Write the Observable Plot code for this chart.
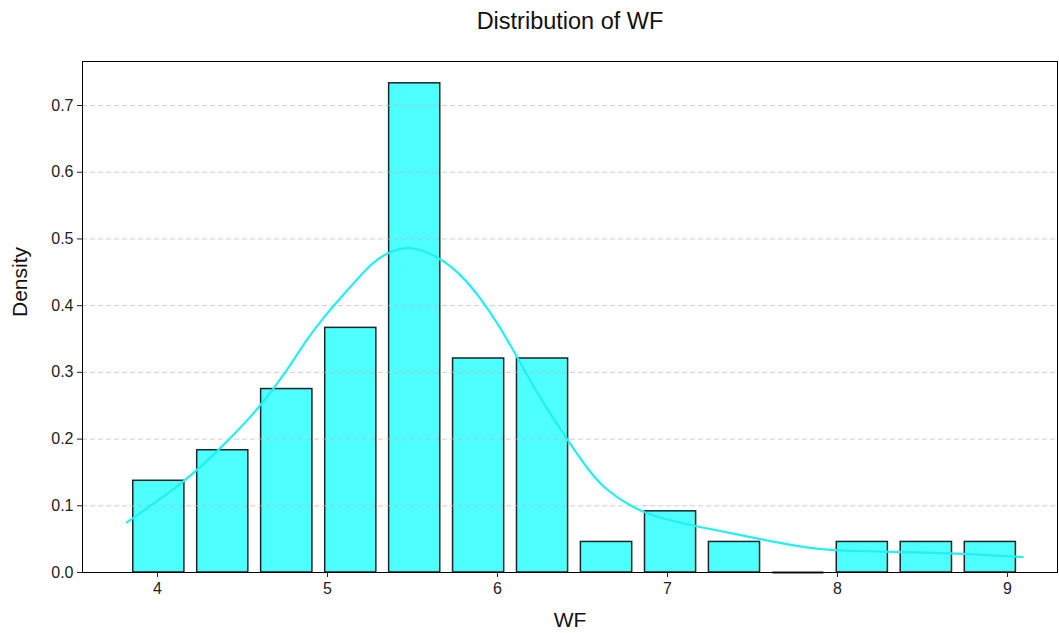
<!DOCTYPE html>
<html>
<head>
<meta charset="utf-8">
<script src="https://cdn.jsdelivr.net/npm/d3@7"></script>
<script src="https://cdn.jsdelivr.net/npm/@observablehq/plot@0.6"></script>
<style>
  html, body { margin: 0; padding: 0; background: #fff; }
  #chart { width: 1059px; height: 633px; }
  svg { font-family: "Liberation Sans", Arial, sans-serif; }
</style>
</head>
<body>
<div id="chart"></div>
<script>
// Histogram bins (edges) and densities
const binStarts = [3.820, 4.196, 4.572, 4.949, 5.325, 5.701, 6.077, 6.453, 6.830, 7.206, 7.582, 7.958, 8.334, 8.711];
const binEnds   = [4.196, 4.572, 4.949, 5.325, 5.701, 6.077, 6.453, 6.830, 7.206, 7.582, 7.958, 8.334, 8.711, 9.087];
const densities = [0.1375, 0.1833, 0.2750, 0.3667, 0.7333, 0.3208, 0.3208, 0.0458, 0.0917, 0.0458, 0.0, 0.0458, 0.0458, 0.0458];

// KDE curve
const kdeX = [3.82, 3.976, 4.153, 4.369, 4.604, 4.761, 4.878, 4.996, 5.064, 5.231, 5.309, 5.476, 5.662, 5.780, 5.897, 6.015, 6.113, 6.172, 6.250, 6.416, 6.544, 6.642, 6.779, 6.897, 7.034, 7.171, 7.425, 7.678, 7.877, 8.072, 8.464, 8.854, 9.089];
const kdeY = [0.075, 0.103, 0.135, 0.185, 0.248, 0.302, 0.350, 0.388, 0.408, 0.456, 0.474, 0.493, 0.472, 0.448, 0.413, 0.368, 0.324, 0.297, 0.262, 0.197, 0.150, 0.123, 0.100, 0.086, 0.077, 0.069, 0.0565, 0.043, 0.035, 0.032, 0.0305, 0.027, 0.023];

const xTicks = [4, 5, 6, 7, 8, 9];
const yTicks = [0, 0.1, 0.2, 0.3, 0.4, 0.5, 0.6, 0.7];

const bins = binStarts.map((s, i) => ({x1: s, x2: binEnds[i], y: densities[i]}));
const kde = kdeX.map((x, i) => ({x, y: kdeY[i]}));

const chart = Plot.plot({
  width: 1059,
  height: 633,
  marginLeft: 82,
  marginRight: 2,
  marginTop: 61,
  marginBottom: 61,
  style: {fontFamily: "Liberation Sans, Arial, sans-serif", fontSize: "16px", color: "#222"},
  x: {domain: [3.559, 9.294], label: null},
  y: {domain: [0, 0.766], label: null},
  marks: [
    Plot.rectY(bins, {x1: "x1", x2: "x2", y: "y", fill: "#4dffff", stroke: "#1c2626", strokeWidth: 1.5, insetLeft: 6.4, insetRight: 6.4}),
    Plot.ruleY(bins.filter(d => d.y === 0), {x1: "x1", x2: "x2", y: "y", stroke: "#1c2626", strokeWidth: 1.8, insetLeft: 6.4, insetRight: 6.4}),
    Plot.ruleY(yTicks.slice(1), {stroke: "#bbbbbb", strokeDasharray: "5,3", strokeWidth: 0.9, strokeOpacity: 0.8}),
    Plot.line(kde, {x: "x", y: "y", stroke: "#22f0f0", strokeWidth: 2.2, curve: "basis"}),
    Plot.frame({stroke: "#000", strokeWidth: 1}),
    Plot.axisX({ticks: xTicks, tickSize: 5, tickPadding: 5, tickFormat: d3.format("d"), fontSize: 16, label: null}),
    Plot.axisY({ticks: yTicks, tickSize: 5, tickPadding: 4, tickFormat: d3.format(".1f"), fontSize: 16, label: null}),
    Plot.text(["Distribution of WF"], {frameAnchor: "top", lineAnchor: "middle", dy: -40, fontSize: 23.5, fill: "#111"}),
    Plot.text(["WF"], {frameAnchor: "bottom", lineAnchor: "middle", dy: 48, fontSize: 21, fill: "#111"}),
    Plot.text(["Density"], {frameAnchor: "left", lineAnchor: "middle", dx: -62, rotate: -90, fontSize: 21, fill: "#111"})
  ]
});
document.getElementById("chart").appendChild(chart);
</script>
</body>
</html>
